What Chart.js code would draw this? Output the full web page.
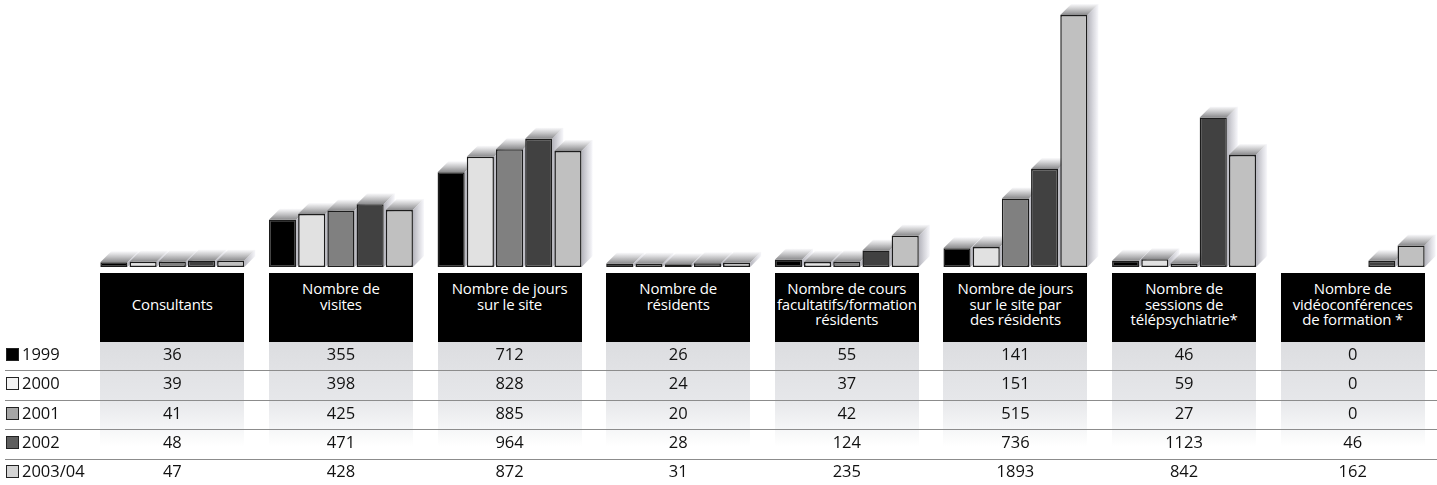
<!DOCTYPE html>
<html>
<head>
<meta charset="utf-8">
<script src="https://cdn.jsdelivr.net/npm/chart.js@4/dist/chart.umd.min.js"></script>
<style>
body { margin: 0; background: #fff; font-family: "Open Sans", sans-serif; }
#wrap { position: relative; width: 1437px; height: 485px; overflow: hidden; }
#c { position: absolute; left: 0; top: 0; }
.band { position: absolute; top: 341px; height: 106px; background: linear-gradient(#dcdde0, #e6e7ea 55%, #fff); }
.hd { position: absolute; top: 273px; height: 69px; background: #000; color: #fff; font-size: 15px; line-height: 15.5px;
      text-align: center; box-sizing: border-box; padding-top: 8px; letter-spacing: -0.2px; }
.hd.one { padding-top: 24px; }
.rl { position: absolute; left: 5px; right: 0; height: 1px; background: #8c8c8c; }
.cell { position: absolute; height: 28px; line-height: 28px; font-size: 16.5px; text-align: center; color: #111; }
.lg { position: absolute; left: 6px; height: 28px; line-height: 28px; font-size: 16.5px; color: #111; }
.sw { display: inline-block; width: 11px; height: 11px; border: 1px solid #222; margin-right: 3px; vertical-align: -1px; }
</style>
</head>
<body>
<div id="wrap">
  <canvas id="c" width="1437" height="485"></canvas>
</div>
<script>
var categories = [
    ['Consultants'],
    ['Nombre de', 'visites'],
    ['Nombre de jours', 'sur le site'],
    ['Nombre de', 'résidents'],
    ['Nombre de cours', 'facultatifs/formation', 'résidents'],
    ['Nombre de jours', 'sur le site par', 'des résidents'],
    ['Nombre de', 'sessions de', 'télépsychiatrie*'],
    ['Nombre de', 'vidéoconférences', 'de formation *']
];
var years = ['1999', '2000', '2001', '2002', '2003/04'];
var v1999 = [36, 355, 712, 26, 55, 141, 46, 0];
var v2000 = [39, 398, 828, 24, 37, 151, 59, 0];
var v2001 = [41, 425, 885, 20, 42, 515, 27, 0];
var v2002 = [48, 471, 964, 28, 124, 736, 1123, 46];
var v2003 = [47, 428, 872, 31, 235, 1893, 842, 162];
var series = [v1999, v2000, v2001, v2002, v2003];

var barColors = ['#000000', '#e1e1e1', '#808080', '#414141', '#c0c0c0'];
var swatchColors = ['#000000', '#f2f2f2', '#a6a6a6', '#5e5e5e', '#d4d4d4'];

// fake 3d shadow behind every bar
var shadowPlugin = {
    id: 'shadow3d',
    beforeDatasetsDraw: function(chart) {
        var ctx = chart.ctx;
        var d = 11;
        ctx.save();
        chart.data.datasets.forEach(function(ds, i) {
            chart.getDatasetMeta(i).data.forEach(function(bar, j) {
                if (!ds.data[j]) return;
                var x0 = bar.x - bar.width / 2, x1 = bar.x + bar.width / 2;
                var yt = bar.y, yb = bar.base;
                var g = ctx.createLinearGradient(0, yt, 0, yt - d);
                g.addColorStop(0, '#8a8a8c');
                g.addColorStop(1, 'rgba(250,250,252,0.9)');
                ctx.fillStyle = g;
                ctx.beginPath();
                ctx.moveTo(x0, yt);
                ctx.lineTo(x0 + d, yt - d);
                ctx.lineTo(x1 + d, yt - d);
                ctx.lineTo(x1, yt);
                ctx.closePath();
                ctx.fill();
                var g2 = ctx.createLinearGradient(x1, 0, x1 + d, 0);
                g2.addColorStop(0, '#b4b4bc');
                g2.addColorStop(1, 'rgba(246,246,250,0.9)');
                ctx.fillStyle = g2;
                ctx.beginPath();
                ctx.moveTo(x1, yt);
                ctx.lineTo(x1 + d, yt - d);
                ctx.lineTo(x1 + d, yb - d);
                ctx.lineTo(x1, yb);
                ctx.closePath();
                ctx.fill();
            });
        });
        ctx.restore();
    }
};

var chart = new Chart(document.getElementById('c'), {
    type: 'bar',
    data: {
        labels: categories,
        datasets: series.map(function(s, i) {
            return {
                label: years[i],
                data: s,
                backgroundColor: barColors[i],
                borderColor: '#1c1c1c',
                borderWidth: 1.5,
                borderSkipped: false,
                categoryPercentage: 0.866,
                barPercentage: 0.93
            };
        })
    },
    options: {
        responsive: false,
        animation: false,
        layout: { padding: { left: 88, right: 0, top: 10, bottom: 218 } },
        plugins: { legend: { display: false }, tooltip: { enabled: false } },
        scales: {
            x: { display: false },
            y: { display: false, min: 0, max: 1930 }
        }
    },
    plugins: [shadowPlugin]
});

// table under the chart, columns placed from the x scale
var wrap = document.getElementById('wrap');
var first = chart.getDatasetMeta(0).data;
var last = chart.getDatasetMeta(series.length - 1).data;
categories.forEach(function(cat, j) {
    var left = first[j].x - first[j].width / 2;
    var right = last[j].x + last[j].width / 2;
    var w = right - left;
    var band = document.createElement('div');
    band.className = 'band';
    band.style.left = left + 'px';
    band.style.width = w + 'px';
    wrap.appendChild(band);
    var hd = document.createElement('div');
    hd.className = 'hd' + (cat.length == 1 ? ' one' : '');
    hd.style.left = left + 'px';
    hd.style.width = w + 'px';
    hd.innerHTML = cat.join('<br>');
    wrap.appendChild(hd);
});
for (var r = 0; r < 4; r++) {
    var line = document.createElement('div');
    line.className = 'rl';
    line.style.top = (370 + 29.5 * r) + 'px';
    wrap.appendChild(line);
}
years.forEach(function(y, i) {
    var top = 340 + 29.3 * i;
    var lg = document.createElement('div');
    lg.className = 'lg';
    lg.style.top = top + 'px';
    lg.innerHTML = '<span class="sw" style="background:' + swatchColors[i] + '"></span>' + y;
    wrap.appendChild(lg);
    series[i].forEach(function(v, j) {
        var cell = document.createElement('div');
        cell.className = 'cell';
        var x = chart.scales.x.getPixelForValue(j);
        cell.style.left = (x - 70) + 'px';
        cell.style.width = '140px';
        cell.style.top = top + 'px';
        cell.textContent = v;
        wrap.appendChild(cell);
    });
});
</script>
</body>
</html>
